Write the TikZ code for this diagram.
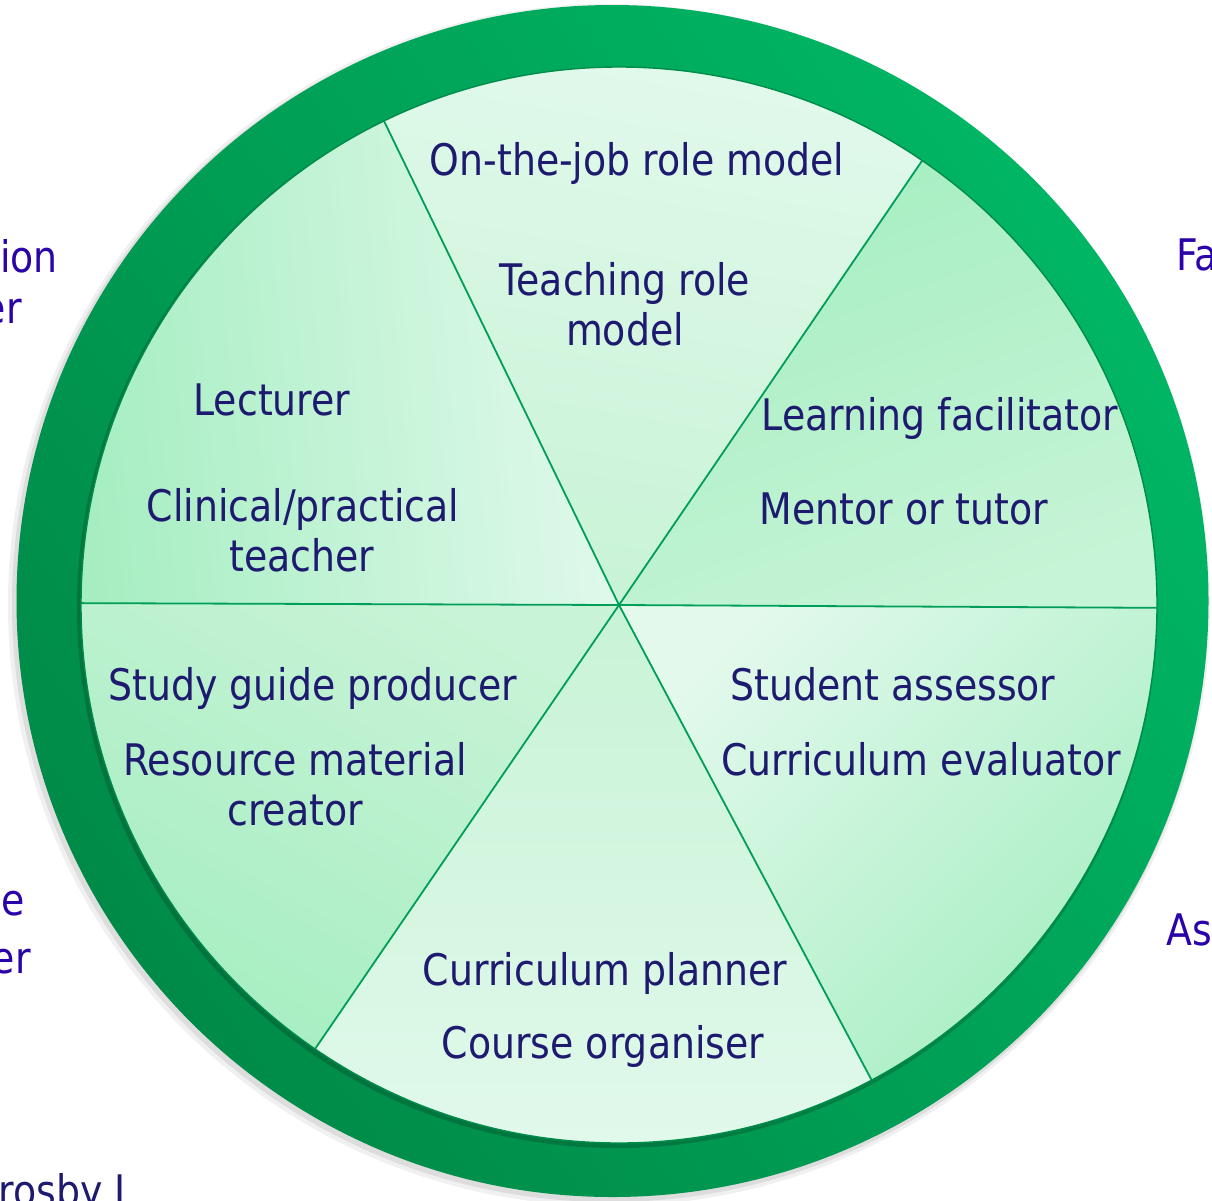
\documentclass[tikz,border=0pt]{standalone}
\usepackage{fontspec}
\setmainfont{DejaVu Sans}[FakeStretch=0.87]
\definecolor{ringA}{RGB}{0,182,100}
\definecolor{ringB}{RGB}{0,138,72}
\definecolor{ringdark}{RGB}{0,140,74}
\definecolor{innertxt}{RGB}{30,26,112}
\definecolor{outtxt}{RGB}{42,4,168}
\definecolor{segL}{RGB}{226,249,236}
\definecolor{segM}{RGB}{200,243,214}
\definecolor{segD}{RGB}{166,238,194}
\definecolor{spoke}{RGB}{0,158,88}
\begin{document}
\begin{tikzpicture}[x=1pt,y=1pt,
  intext/.style={text=innertxt, font=\fontsize{43.5}{51}\selectfont, inner sep=0pt, anchor=base},
  outtext/.style={text=outtxt, font=\fontsize{43.5}{51}\selectfont, inner sep=0pt},
  spokeline/.style={draw=spoke, line width=1.8pt}]
\useasboundingbox (0,0) rectangle (1212,-1200);
\clip (0,0) rectangle (1212,-1200);
\fill[white] (0,0) rectangle (1212,-1200);
% outer ring with soft shadow
\fill[black, opacity=0.06] (609,-605) circle (601);
\fill[black, opacity=0.08] (610,-604) circle (598);
\shade[top color=ringA, bottom color=ringB, shading angle=-55] (612.5,-601) circle (596);
% inner shadow
\fill[black, opacity=0.18] (617,-608) circle (540);
\coordinate (H) at (619,-605);
% sectors
\shade[top color=segL, bottom color=segM, shading angle=-10]
  (H) -- ++(55.7:538) arc[start angle=55.7, end angle=115.9, radius=538] -- cycle;
\shade[left color=segD, right color=segL, shading angle=95]
  (H) -- ++(115.9:538) arc[start angle=115.9, end angle=179.8, radius=538] -- cycle;
\shade[top color=segD, bottom color=segM, shading angle=150]
  (H) -- ++(179.8:538) arc[start angle=179.8, end angle=235.6, radius=538] -- cycle;
\shade[top color=segM, bottom color=segL, shading angle=0]
  (H) -- ++(235.6:538) arc[start angle=235.6, end angle=298, radius=538] -- cycle;
\shade[top color=segL, bottom color=segD, shading angle=45]
  (H) -- ++(298:538) arc[start angle=298, end angle=359.7, radius=538] -- cycle;
\shade[top color=segD, bottom color={rgb,255:red,198;green,244;blue,214}, shading angle=20]
  (H) -- ++(-0.3:538) arc[start angle=-0.3, end angle=55.7, radius=538] -- cycle;
% spokes
\foreach \a in {55.7,115.9,179.8,235.6,298,-0.3}
  \draw[spokeline] (H) -- ++(\a:538);
\draw[ringdark, line width=1.4pt] (H) circle (538);
% texts inside
\node[intext] (ojt) at (637,-175) {On-the-job role model};
\node[intext] (trm1) at (625,-295) {Teaching role};
\node[intext] (trm2) at (625,-345) {model};
\node[intext] (lec) at (272,-415) {Lecturer};
\node[intext] (cpt1) at (303,-521) {Clinical/practical};
\node[intext] (cpt2) at (302,-571) {teacher};
\node[intext] (lf) at (940,-430) {Learning facilitator};
\node[intext] (mt) at (904,-524) {Mentor or tutor};
\node[intext] (sgp) at (313,-700) {Study guide producer};
\node[intext] (rmc1) at (295,-775) {Resource material};
\node[intext] (rmc2) at (295,-825) {creator};
\node[intext] (sa) at (893,-700) {Student assessor};
\node[intext] (ce) at (921,-775) {Curriculum evaluator};
\node[intext] (cp) at (605,-985) {Curriculum planner};
\node[intext] (co) at (603,-1058) {Course organiser};
% texts outside (cut by the frame)
\node[outtext, anchor=base east] (o1) at (58,-272) {ion};
\node[outtext, anchor=base east] (o2) at (22,-323) {er};
\node[outtext, anchor=base east] (o3) at (25,-915) {e};
\node[outtext, anchor=base east] (o4) at (31,-973) {er};
\node[outtext, anchor=base west] (o5) at (1176,-270) {Fa};
\node[outtext, anchor=base west] (o6) at (1166,-945) {As};
\node[text=innertxt, font=\fontsize{43.5}{51}\selectfont, inner sep=0pt, anchor=base east] (o7) at (126,-1206) {rosby J};
\end{tikzpicture}
\end{document}
